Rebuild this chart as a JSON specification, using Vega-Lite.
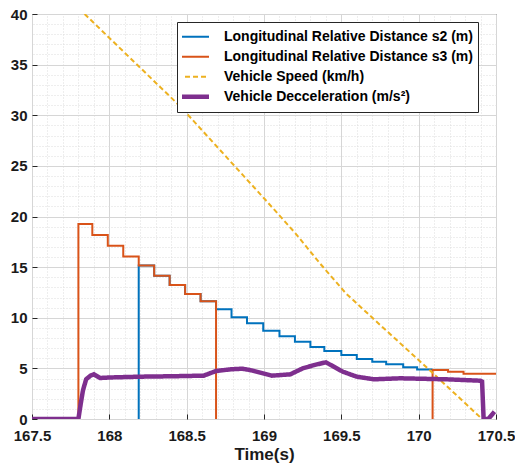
{
  "$schema": "https://vega.github.io/schema/vega-lite/v6.json",
  "width": 464,
  "height": 405,
  "autosize": "none",
  "padding": {"left": 32, "top": 14, "right": 19, "bottom": 50},
  "background": "white",
  "config": {
    "font": "Liberation Sans",
    "view": {"stroke": "#262626", "strokeWidth": 1},
    "axis": {
      "labelFont": "Liberation Sans",
      "labelFontWeight": "bold",
      "labelFontSize": 15,
      "labelColor": "#1a1a1a",
      "titleFont": "Liberation Sans",
      "titleFontWeight": "bold",
      "titleColor": "#1a1a1a",
      "domain": false,
      "tickColor": "#262626"
    },
    "legend": {
      "labelFont": "Liberation Sans",
      "labelFontWeight": "bold",
      "labelFontSize": 14,
      "labelColor": "#000000",
      "symbolType": "stroke",
      "symbolSize": 1600,
      "symbolStrokeWidth": 2,
      "clipHeight": 19.5,
      "rowPadding": 0,
      "labelOffset": 28,
      "padding": 5,
      "strokeColor": "#262626",
      "fillColor": "white",
      "labelLimit": 400
    }
  },
  "data": {
    "values": [
      {"series": "Longitudinal Relative Distance s2 (m)", "seg": "a", "t": 168.19, "v": 0},
      {"series": "Longitudinal Relative Distance s2 (m)", "seg": "a", "t": 168.19, "v": 15.15},
      {"series": "Longitudinal Relative Distance s2 (m)", "seg": "a", "t": 168.29, "v": 14.15},
      {"series": "Longitudinal Relative Distance s2 (m)", "seg": "a", "t": 168.39, "v": 13.23},
      {"series": "Longitudinal Relative Distance s2 (m)", "seg": "a", "t": 168.49, "v": 12.35},
      {"series": "Longitudinal Relative Distance s2 (m)", "seg": "a", "t": 168.59, "v": 11.62},
      {"series": "Longitudinal Relative Distance s2 (m)", "seg": "a", "t": 168.69, "v": 10.83},
      {"series": "Longitudinal Relative Distance s2 (m)", "seg": "a", "t": 168.79, "v": 10.04},
      {"series": "Longitudinal Relative Distance s2 (m)", "seg": "a", "t": 168.89, "v": 9.45},
      {"series": "Longitudinal Relative Distance s2 (m)", "seg": "a", "t": 168.995, "v": 8.72},
      {"series": "Longitudinal Relative Distance s2 (m)", "seg": "a", "t": 169.1, "v": 8.17},
      {"series": "Longitudinal Relative Distance s2 (m)", "seg": "a", "t": 169.2, "v": 7.64},
      {"series": "Longitudinal Relative Distance s2 (m)", "seg": "a", "t": 169.3, "v": 7.12},
      {"series": "Longitudinal Relative Distance s2 (m)", "seg": "a", "t": 169.39, "v": 6.72},
      {"series": "Longitudinal Relative Distance s2 (m)", "seg": "a", "t": 169.5, "v": 6.32},
      {"series": "Longitudinal Relative Distance s2 (m)", "seg": "a", "t": 169.6, "v": 5.93},
      {"series": "Longitudinal Relative Distance s2 (m)", "seg": "a", "t": 169.7, "v": 5.66},
      {"series": "Longitudinal Relative Distance s2 (m)", "seg": "a", "t": 169.79, "v": 5.4},
      {"series": "Longitudinal Relative Distance s2 (m)", "seg": "a", "t": 169.9, "v": 5.1},
      {"series": "Longitudinal Relative Distance s2 (m)", "seg": "a", "t": 169.99, "v": 4.9},
      {"series": "Longitudinal Relative Distance s2 (m)", "seg": "a", "t": 170.09, "v": 4.9},
      {"series": "Longitudinal Relative Distance s3 (m)", "seg": "a", "t": 167.8, "v": 0},
      {"series": "Longitudinal Relative Distance s3 (m)", "seg": "a", "t": 167.8, "v": 19.25},
      {"series": "Longitudinal Relative Distance s3 (m)", "seg": "a", "t": 167.89, "v": 18.17},
      {"series": "Longitudinal Relative Distance s3 (m)", "seg": "a", "t": 167.99, "v": 17.12},
      {"series": "Longitudinal Relative Distance s3 (m)", "seg": "a", "t": 168.09, "v": 16.05},
      {"series": "Longitudinal Relative Distance s3 (m)", "seg": "a", "t": 168.19, "v": 15.15},
      {"series": "Longitudinal Relative Distance s3 (m)", "seg": "a", "t": 168.29, "v": 14.15},
      {"series": "Longitudinal Relative Distance s3 (m)", "seg": "a", "t": 168.39, "v": 13.23},
      {"series": "Longitudinal Relative Distance s3 (m)", "seg": "a", "t": 168.49, "v": 12.35},
      {"series": "Longitudinal Relative Distance s3 (m)", "seg": "a", "t": 168.59, "v": 11.62},
      {"series": "Longitudinal Relative Distance s3 (m)", "seg": "a", "t": 168.69, "v": 0},
      {"series": "Longitudinal Relative Distance s3 (m)", "seg": "b", "t": 170.09, "v": 0},
      {"series": "Longitudinal Relative Distance s3 (m)", "seg": "b", "t": 170.09, "v": 4.84},
      {"series": "Longitudinal Relative Distance s3 (m)", "seg": "b", "t": 170.19, "v": 4.67},
      {"series": "Longitudinal Relative Distance s3 (m)", "seg": "b", "t": 170.29, "v": 4.47},
      {"series": "Longitudinal Relative Distance s3 (m)", "seg": "b", "t": 170.5, "v": 4.47},
      {"series": "Vehicle Speed (km/h)", "seg": "a", "t": 167.84, "v": 40},
      {"series": "Vehicle Speed (km/h)", "seg": "a", "t": 168.46, "v": 30.85},
      {"series": "Vehicle Speed (km/h)", "seg": "a", "t": 169.0, "v": 21.8},
      {"series": "Vehicle Speed (km/h)", "seg": "a", "t": 169.2, "v": 18.4},
      {"series": "Vehicle Speed (km/h)", "seg": "a", "t": 169.36, "v": 15.4},
      {"series": "Vehicle Speed (km/h)", "seg": "a", "t": 169.53, "v": 12.4},
      {"series": "Vehicle Speed (km/h)", "seg": "a", "t": 169.75, "v": 9.3},
      {"series": "Vehicle Speed (km/h)", "seg": "a", "t": 170.07, "v": 4.84},
      {"series": "Vehicle Speed (km/h)", "seg": "a", "t": 170.41, "v": 0},
      {"series": "Vehicle Decceleration (m/s²)", "seg": "a", "t": 167.5, "v": 0},
      {"series": "Vehicle Decceleration (m/s²)", "seg": "a", "t": 167.8, "v": 0},
      {"series": "Vehicle Decceleration (m/s²)", "seg": "a", "t": 167.815, "v": 1.5},
      {"series": "Vehicle Decceleration (m/s²)", "seg": "a", "t": 167.83, "v": 2.86},
      {"series": "Vehicle Decceleration (m/s²)", "seg": "a", "t": 167.85, "v": 3.92},
      {"series": "Vehicle Decceleration (m/s²)", "seg": "a", "t": 167.88, "v": 4.3},
      {"series": "Vehicle Decceleration (m/s²)", "seg": "a", "t": 167.9, "v": 4.41},
      {"series": "Vehicle Decceleration (m/s²)", "seg": "a", "t": 167.94, "v": 4.05},
      {"series": "Vehicle Decceleration (m/s²)", "seg": "a", "t": 168.0, "v": 4.1},
      {"series": "Vehicle Decceleration (m/s²)", "seg": "a", "t": 168.2, "v": 4.18},
      {"series": "Vehicle Decceleration (m/s²)", "seg": "a", "t": 168.4, "v": 4.22},
      {"series": "Vehicle Decceleration (m/s²)", "seg": "a", "t": 168.61, "v": 4.28},
      {"series": "Vehicle Decceleration (m/s²)", "seg": "a", "t": 168.69, "v": 4.74},
      {"series": "Vehicle Decceleration (m/s²)", "seg": "a", "t": 168.78, "v": 4.9},
      {"series": "Vehicle Decceleration (m/s²)", "seg": "a", "t": 168.86, "v": 4.97},
      {"series": "Vehicle Decceleration (m/s²)", "seg": "a", "t": 168.92, "v": 4.8},
      {"series": "Vehicle Decceleration (m/s²)", "seg": "a", "t": 169.05, "v": 4.28},
      {"series": "Vehicle Decceleration (m/s²)", "seg": "a", "t": 169.17, "v": 4.41},
      {"series": "Vehicle Decceleration (m/s²)", "seg": "a", "t": 169.25, "v": 5.0},
      {"series": "Vehicle Decceleration (m/s²)", "seg": "a", "t": 169.33, "v": 5.35},
      {"series": "Vehicle Decceleration (m/s²)", "seg": "a", "t": 169.4, "v": 5.6},
      {"series": "Vehicle Decceleration (m/s²)", "seg": "a", "t": 169.51, "v": 4.67},
      {"series": "Vehicle Decceleration (m/s²)", "seg": "a", "t": 169.6, "v": 4.18},
      {"series": "Vehicle Decceleration (m/s²)", "seg": "a", "t": 169.71, "v": 3.92},
      {"series": "Vehicle Decceleration (m/s²)", "seg": "a", "t": 169.88, "v": 4.02},
      {"series": "Vehicle Decceleration (m/s²)", "seg": "a", "t": 170.0, "v": 3.98},
      {"series": "Vehicle Decceleration (m/s²)", "seg": "a", "t": 170.18, "v": 3.92},
      {"series": "Vehicle Decceleration (m/s²)", "seg": "a", "t": 170.4, "v": 3.78},
      {"series": "Vehicle Decceleration (m/s²)", "seg": "a", "t": 170.41, "v": 3.7},
      {"series": "Vehicle Decceleration (m/s²)", "seg": "a", "t": 170.42, "v": 0},
      {"series": "Vehicle Decceleration (m/s²)", "seg": "a", "t": 170.45, "v": 0},
      {"series": "Vehicle Decceleration (m/s²)", "seg": "a", "t": 170.49, "v": 0.72}
    ]
  },
  "encoding": {
    "x": {"field": "t", "type": "quantitative", "scale": {"domain": [167.5, 170.5], "nice": false, "zero": false}},
    "y": {"field": "v", "type": "quantitative", "scale": {"domain": [0, 40], "nice": false}},
    "detail": {"field": "seg", "type": "nominal"},
    "color": {
      "field": "series", "type": "nominal",
      "scale": {
        "domain": ["Longitudinal Relative Distance s2 (m)", "Longitudinal Relative Distance s3 (m)", "Vehicle Speed (km/h)", "Vehicle Decceleration (m/s²)"],
        "range": ["#0072BD", "#D95319", "#EDB120", "#7E2F8E"]
      },
      "legend": {"title": null, "orient": "none", "legendX": 145, "legendY": 8,
        "encode": {"symbols": {"update": {"strokeWidth": {"signal": "datum.value === 'Vehicle Decceleration (m/s²)' ? 4.5 : 2"}}}}}
    },
    "strokeDash": {
      "field": "series", "type": "nominal",
      "scale": {
        "domain": ["Longitudinal Relative Distance s2 (m)", "Longitudinal Relative Distance s3 (m)", "Vehicle Speed (km/h)", "Vehicle Decceleration (m/s²)"],
        "range": [[1, 0], [1, 0], [5, 3], [1, 0]]
      },
      "legend": {"title": null, "orient": "none", "legendX": 145, "legendY": 8}
    }
  },
  "layer": [
    {
      "transform": [{"filter": "datum.series === 'Longitudinal Relative Distance s2 (m)'"}],
      "mark": {"type": "line", "interpolate": "step-after", "clip": true, "strokeWidth": 2},
      "encoding": {
        "x": {"field": "t", "type": "quantitative", "title": "Time(s)",
          "axis": {"values": [167.5, 168, 168.5, 169, 169.5, 170, 170.5], "grid": true, "gridColor": "#d6d6d6", "gridWidth": 1, "tickSize": -5, "labelPadding": 14, "titleFontSize": 17, "titlePadding": 3, "labelFlush": false, "format": "~g"}},
        "y": {"field": "v", "type": "quantitative", "title": null,
          "axis": {"values": [0, 5, 10, 15, 20, 25, 30, 35, 40], "grid": true, "gridColor": "#d6d6d6", "gridWidth": 1, "tickSize": -5, "labelPadding": 10, "labelFlush": false}}
      }
    },
    {
      "transform": [{"filter": "datum.series === 'Longitudinal Relative Distance s3 (m)'"}],
      "mark": {"type": "line", "interpolate": "step-after", "clip": true, "strokeWidth": 2},
      "encoding": {
        "x": {"field": "t", "type": "quantitative",
          "axis": {"orient": "top", "values": [167.6, 167.7, 167.8, 167.9, 168.1, 168.2, 168.3, 168.4, 168.6, 168.7, 168.8, 168.9, 169.1, 169.2, 169.3, 169.4, 169.6, 169.7, 169.8, 169.9, 170.1, 170.2, 170.3, 170.4], "grid": true, "gridColor": "#dcdcdc", "gridDash": [1, 2], "gridWidth": 1, "labels": false, "ticks": false, "title": null}},
        "y": {"field": "v", "type": "quantitative",
          "axis": {"orient": "right", "values": [1, 2, 3, 4, 6, 7, 8, 9, 11, 12, 13, 14, 16, 17, 18, 19, 21, 22, 23, 24, 26, 27, 28, 29, 31, 32, 33, 34, 36, 37, 38, 39], "grid": true, "gridColor": "#dcdcdc", "gridDash": [1, 2], "gridWidth": 1, "labels": false, "ticks": false, "title": null}}
      }
    },
    {
      "transform": [{"filter": "datum.series === 'Vehicle Speed (km/h)'"}],
      "mark": {"type": "line", "clip": true, "strokeWidth": 2},
      "encoding": {
        "x": {"field": "t", "type": "quantitative", "axis": null},
        "y": {"field": "v", "type": "quantitative", "axis": null}
      }
    },
    {
      "transform": [{"filter": "datum.series === 'Vehicle Decceleration (m/s²)'"}],
      "mark": {"type": "line", "clip": true, "strokeWidth": 4.5},
      "encoding": {
        "x": {"field": "t", "type": "quantitative", "axis": null},
        "y": {"field": "v", "type": "quantitative", "axis": null}
      }
    }
  ],
  "resolve": {"scale": {"x": "shared", "y": "shared"}, "axis": {"x": "independent", "y": "independent"}}
}
